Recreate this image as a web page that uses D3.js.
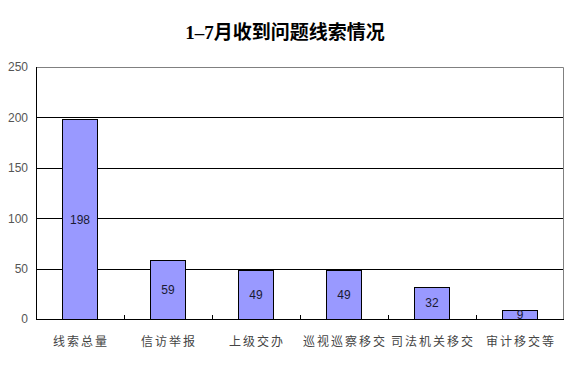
<!DOCTYPE html>
<html>
<head>
<meta charset="utf-8">
<script src="https://cdn.jsdelivr.net/npm/d3@7"></script>
<style>
  body { margin: 0; background: #fff; }
  text { font-family: "Liberation Sans", "Noto Sans CJK SC", sans-serif; }
</style>
</head>
<body>
<div id="chart"></div>
<script>
// chart data
var categories = ["线索总量", "信访举报", "上级交办", "巡视巡察移交", "司法机关移交", "审计移交等"];
var values = [198, 59, 49, 49, 32, 9];
var yTicks = [0, 50, 100, 150, 200, 250];
var title = "1–7月收到问题线索情况";

var svgWidth = 569;
var svgHeight = 385;

var margin = { top: 67, right: 5, bottom: 66, left: 36 };
var width = svgWidth - margin.left - margin.right;
var height = svgHeight - margin.top - margin.bottom;

var svg = d3.select("#chart")
  .append("svg")
  .attr("width", svgWidth)
  .attr("height", svgHeight);

// title
svg.append("text")
  .attr("x", 285)
  .attr("y", 39)
  .attr("text-anchor", "middle")
  .style("font-family", "'Liberation Serif', 'Noto Sans CJK SC', serif")
  .style("font-weight", "bold")
  .style("font-size", "19px")
  .attr("fill", "#000")
  .text(title);

var chartGroup = svg.append("g")
  .attr("transform", `translate(${margin.left}, ${margin.top})`);

var xScale = d3.scaleBand()
  .domain(categories)
  .range([0, width])
  .padding(0);

var yScale = d3.scaleLinear()
  .domain([0, 250])
  .range([height, 0]);

var barWidth = xScale.bandwidth() * 0.4;

// gridlines (black)
chartGroup.selectAll(".grid")
  .data(yTicks.filter(d => d > 0 && d < 250))
  .enter()
  .append("line")
  .attr("x1", 0)
  .attr("x2", width)
  .attr("y1", d => Math.round(yScale(d)) + 0.5)
  .attr("y2", d => Math.round(yScale(d)) + 0.5)
  .attr("stroke", "#000")
  .attr("stroke-width", 1);

// top and right border (gray)
chartGroup.append("path")
  .attr("d", `M0.5,0.5H${width - 0.5}V${height}`)
  .attr("fill", "none")
  .attr("stroke", "#808080");

// bars
chartGroup.selectAll(".bar")
  .data(values)
  .enter()
  .append("rect")
  .attr("x", (d, i) => Math.round(xScale(categories[i]) + (xScale.bandwidth() - barWidth) / 2) + 0.5)
  .attr("y", d => Math.round(yScale(d)) + 0.5)
  .attr("width", Math.round(barWidth))
  .attr("height", d => height - Math.round(yScale(d)))
  .attr("fill", "#9999ff")
  .attr("stroke", "#000")
  .attr("stroke-width", 1);

// value labels centered in bars
chartGroup.selectAll(".val")
  .data(values)
  .enter()
  .append("text")
  .attr("x", (d, i) => xScale(categories[i]) + xScale.bandwidth() / 2)
  .attr("y", d => (yScale(d) + height) / 2)
  .attr("dy", "0.36em")
  .attr("text-anchor", "middle")
  .style("font-size", "12px")
  .attr("fill", "#1a1a33")
  .text(d => d);

// y axis
var leftAxis = d3.axisLeft(yScale)
  .tickValues(yTicks)
  .tickSize(0)
  .tickPadding(8);

var yAxis = chartGroup.append("g")
  .call(leftAxis);
yAxis.select(".domain").attr("stroke", "#000").attr("d", `M0.5,0V${height}`);
yAxis.selectAll("text")
  .style("font-size", "12px")
  .attr("fill", "#555");

// x axis
var bottomAxis = d3.axisBottom(xScale)
  .tickSize(0)
  .tickPadding(18);

var xAxis = chartGroup.append("g")
  .attr("transform", `translate(0, ${height})`)
  .call(bottomAxis);
xAxis.select(".domain").attr("stroke", "#000").attr("d", `M0,0.5H${width}`);
xAxis.selectAll("text")
  .style("font-size", "12px")
  .style("font-family", "'Noto Sans CJK SC', sans-serif")
  .style("letter-spacing", "2px")
  .attr("dx", "1px")
  .attr("fill", "#444");

// small inner tick marks at category boundaries
xAxis.selectAll(".sep")
  .data(categories.slice(1))
  .enter()
  .append("line")
  .attr("x1", d => Math.round(xScale(d)) + 0.5)
  .attr("x2", d => Math.round(xScale(d)) + 0.5)
  .attr("y1", 0)
  .attr("y2", -4)
  .attr("stroke", "#000");
</script>
</body>
</html>
